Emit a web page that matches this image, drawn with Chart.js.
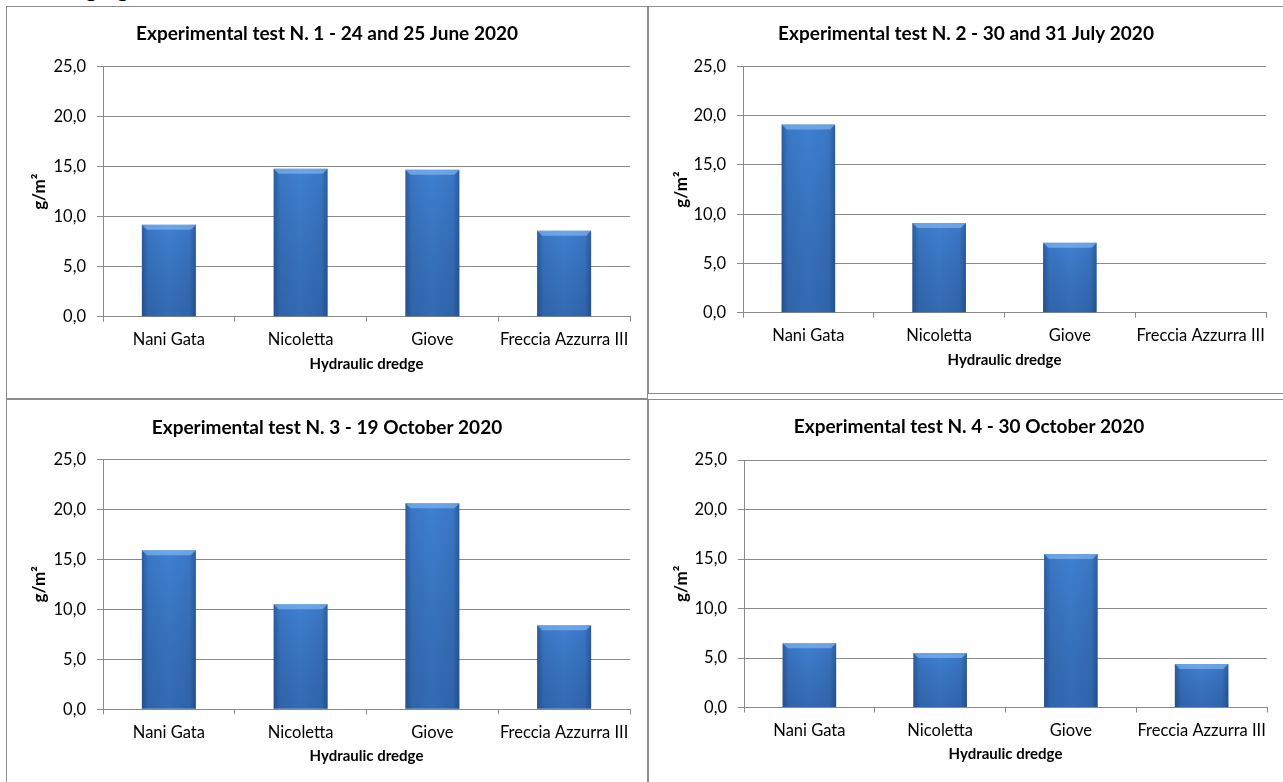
<!DOCTYPE html>
<html>
<head>
<meta charset="utf-8">
<script src="https://cdn.jsdelivr.net/npm/chart.js@4.4.0/dist/chart.umd.min.js"></script>
<style>
    html, body { margin: 0; padding: 0; background: #fff; overflow: hidden; }
    body { width: 1283px; height: 782px; position: relative; font-family: Lato, sans-serif; }
    .panel { position: absolute; border: 1px solid #8c8c8c; box-sizing: border-box; background: #fff; overflow: hidden; }
    .panel canvas { display: block; }
    #heading { position: absolute; left: 0; top: -24px; width: 129px; text-align: right; font-size: 24px; line-height: 24px; color: #000; }
</style>
</head>
<body>
<div id="heading">Dredging</div>
<div class="panel" style="left:6px;top:6px;width:642px;height:393px"><canvas id="chart1" width="640" height="391"></canvas></div>
<div class="panel" style="left:648px;top:6px;width:636px;height:388px"><canvas id="chart2" width="634" height="386"></canvas></div>
<div class="panel" style="left:6px;top:399px;width:642px;height:393px"><canvas id="chart3" width="640" height="391"></canvas></div>
<div class="panel" style="left:648px;top:399px;width:642px;height:393px"><canvas id="chart4" width="640" height="391"></canvas></div>
<script>
// Data
const dredges = ['Nani Gata', 'Nicoletta', 'Giove', 'Freccia Azzurra III'];
const test1Values = [9.2, 14.8, 14.7, 8.6];
const test2Values = [19.1, 9.1, 7.1, 0];
const test3Values = [15.9, 10.5, 20.6, 8.4];
const test4Values = [6.5, 5.5, 15.5, 4.4];
const yTicks = [0, 5, 10, 15, 20, 25];

const titles = [
    'Experimental test N. 1 - 24 and 25 June 2020',
    'Experimental test N. 2 - 30 and 31 July 2020',
    'Experimental test N. 3 - 19 October 2020',
    'Experimental test N. 4 - 30 October 2020'
];

// Colors
const colors = {
    grid: '#8a8a8a',
    text: '#000000',
    barEdge: '#2b5c9e',
    barMid: '#3f80d2',
    barInner: '#3a77c6'
};

const barFraction = 0.41;

// Bevel / shading on top of the bars (uses the bar elements' own geometry)
const bevelPlugin = {
    id: 'bevel',
    afterDatasetsDraw(chart) {
        const ctx = chart.ctx;
        chart.getDatasetMeta(0).data.forEach(bar => {
            const p = bar.getProps(['x', 'y', 'base', 'width'], true);
            const h = p.base - p.y;
            if (h < 1) return;
            const left = p.x - p.width / 2;
            const right = p.x + p.width / 2;
            ctx.save();
            const shade = ctx.createLinearGradient(0, p.y, 0, p.base);
            shade.addColorStop(0, 'rgba(0,0,0,0)');
            shade.addColorStop(1, 'rgba(10,30,70,0.22)');
            ctx.fillStyle = shade;
            ctx.fillRect(left, p.y, p.width, h);
            const b = Math.min(5, h / 2);
            ctx.fillStyle = 'rgba(140,190,245,0.6)';
            ctx.beginPath();
            ctx.moveTo(left, p.y);
            ctx.lineTo(right, p.y);
            ctx.lineTo(right - b, p.y + b);
            ctx.lineTo(left + b, p.y + b);
            ctx.closePath();
            ctx.fill();
            ctx.restore();
        });
    }
};

function barGradient(context) {
    const chart = context.chart;
    const xScale = chart.scales.x;
    if (!xScale || !chart.chartArea) return colors.barMid;
    const cx = xScale.getPixelForValue(context.dataIndex);
    const half = (xScale.width / dredges.length) * barFraction / 2;
    const g = chart.ctx.createLinearGradient(cx - half, 0, cx + half, 0);
    g.addColorStop(0, colors.barEdge);
    g.addColorStop(0.12, colors.barInner);
    g.addColorStop(0.5, colors.barMid);
    g.addColorStop(0.88, colors.barInner);
    g.addColorStop(1, colors.barEdge);
    return g;
}

function formatTick(value) {
    return yTicks.includes(value) ? value.toFixed(1).replace('.', ',') : '';
}

// Build one panel; layout numbers are relative to the canvas
function makeChart(id, title, values, lay) {
    const tickFont = { family: 'Lato', size: 16.5, lineHeight: 1.2 };
    const boldFont = { family: 'Lato', size: 15, weight: 'bold', lineHeight: 1.2 };
    const yTitleFont = { family: 'Lato', size: 17, weight: 'bold', lineHeight: 1.2 };
    const titleFont = { family: 'Lato', size: 19, weight: 'bold', lineHeight: 1.2 };
    const canvas = document.getElementById(id);
    const H = canvas.height;
    const W = canvas.width;
    const titleLH = 19 * 1.2;
    const titlePadTop = lay.titleY - titleLH / 2;
    const titlePadBottom = lay.top - titlePadTop - titleLH;
    const xAxisHeight = H - lay.bottom;
    const xTitlePadBottom = H - (lay.bottom + 47) - 9;

    new Chart(canvas, {
        type: 'bar',
        data: {
            labels: dredges,
            datasets: [{
                data: values,
                backgroundColor: barGradient,
                borderWidth: 0,
                categoryPercentage: 1,
                barPercentage: barFraction
            }]
        },
        options: {
            responsive: false,
            animation: false,
            layout: {
                padding: 0
            },
            plugins: {
                legend: { display: false },
                tooltip: { enabled: false },
                title: {
                    display: true,
                    text: title,
                    color: colors.text,
                    font: titleFont,
                    padding: { top: titlePadTop, bottom: titlePadBottom }
                }
            },
            scales: {
                y: {
                    min: 0,
                    max: 25,
                    afterFit: function(scale) { scale.width = lay.left; },
                    ticks: {
                        stepSize: 5,
                        color: colors.text,
                        font: tickFont,
                        padding: 11,
                        callback: formatTick
                    },
                    grid: {
                        color: colors.grid,
                        lineWidth: 1,
                        tickLength: 6,
                        drawTicks: true
                    },
                    border: { display: true, color: colors.grid, width: 1 },
                    title: {
                        display: true,
                        text: 'g/m²',
                        color: colors.text,
                        font: yTitleFont,
                        padding: { top: 33 - 17 * 1.2 / 2, bottom: 0 }
                    }
                },
                // empty spacer on the right so the title stays centred on the panel
                yRight: {
                    position: 'right',
                    min: 0,
                    max: 25,
                    afterFit: function(scale) { scale.width = W - lay.right; },
                    ticks: { display: false },
                    grid: { display: false },
                    border: { display: false }
                },
                x: {
                    afterFit: function(scale) { scale.height = xAxisHeight; },
                    ticks: {
                        color: colors.text,
                        font: tickFont,
                        padding: 8.5,
                        maxRotation: 0,
                        autoSkip: false
                    },
                    grid: {
                        display: true,
                        drawOnChartArea: false,
                        color: colors.grid,
                        tickLength: 5,
                        offset: true
                    },
                    border: { display: true, color: colors.grid, width: 1 },
                    title: {
                        display: true,
                        text: 'Hydraulic dredge',
                        color: colors.text,
                        font: boldFont,
                        padding: { top: 0, bottom: xTitlePadBottom }
                    }
                }
            }
        },
        plugins: [bevelPlugin]
    });
}

document.addEventListener('DOMContentLoaded', function() {
    makeChart('chart1', titles[0], test1Values, { left: 96, right: 623, top: 59.7, bottom: 309.7, titleY: 27 });
    makeChart('chart2', titles[1], test2Values, { left: 94, right: 617, top: 59.5, bottom: 305.7, titleY: 27 });
    makeChart('chart3', titles[2], test3Values, { left: 96, right: 623, top: 59.3, bottom: 309.3, titleY: 27.5 });
    makeChart('chart4', titles[3], test4Values, { left: 95, right: 618, top: 60, bottom: 307.5, titleY: 26.5 });
});
</script>
</body>
</html>
